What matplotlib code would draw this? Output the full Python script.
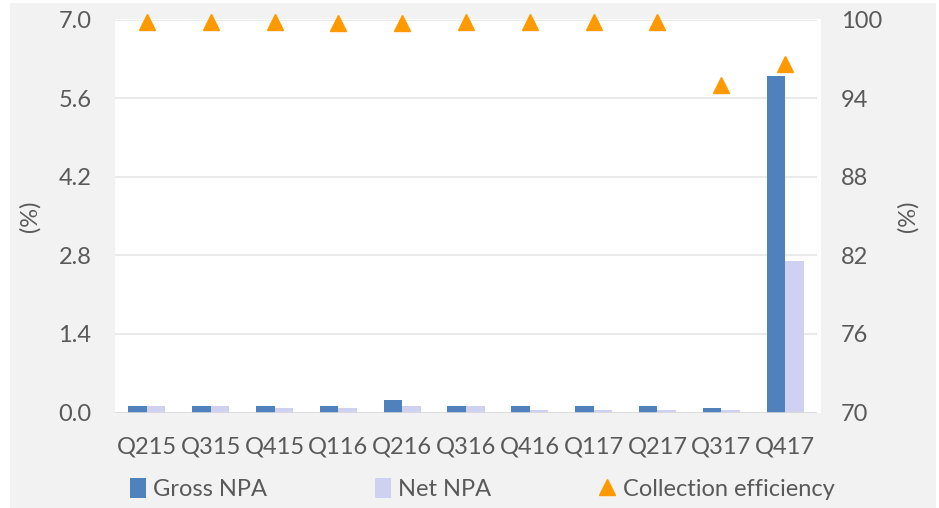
import matplotlib
matplotlib.use("Agg")
import matplotlib.pyplot as plt
import numpy as np
from matplotlib.patches import Rectangle
from matplotlib.lines import Line2D

quarters = ["Q215", "Q315", "Q415", "Q116", "Q216", "Q316", "Q416",
            "Q117", "Q217", "Q317", "Q417"]
gross_npa = [0.12, 0.12, 0.12, 0.12, 0.22, 0.12, 0.12, 0.12, 0.12, 0.08, 6.0]
net_npa = [0.12, 0.12, 0.08, 0.08, 0.12, 0.12, 0.04, 0.04, 0.04, 0.04, 2.7]
collection_eff = [99.8, 99.8, 99.8, 99.7, 99.7, 99.8, 99.8, 99.8, 99.8, 95.0, 96.6]

left_ticks = [0.0, 1.4, 2.8, 4.2, 5.6, 7.0]
right_ticks = [70, 76, 82, 88, 94, 100]

GROSS = "#4F81BD"
NET = "#D0D0F0"
ORANGE = "#FF9900"
TEXT = "#595959"
BG = "#F2F2F2"
FONT = "Lato"
FS = 17

plt.rcParams["font.family"] = [FONT, "DejaVu Sans"]

W, H = 939, 508
fig = plt.figure(figsize=(W / 100, H / 100), dpi=100, facecolor="white")
fig.patches.append(Rectangle((10 / W, 0), 926 / W, 505 / H, transform=fig.transFigure,
                             facecolor=BG, edgecolor="none", zorder=-10))
# white plot area slightly wider than the axes
fig.patches.append(Rectangle((115 / W, 1 - 413 / H), 706 / W, 394 / H,
                             transform=fig.transFigure, facecolor="white",
                             edgecolor="none", zorder=-5))

ax = fig.add_axes([115 / W, 1 - 412.5 / H, 702 / W, 393 / H])
ax.set_facecolor("none")
x = np.arange(len(quarters))
bw = 0.29
ax.bar(x - bw / 2, gross_npa, width=bw, color=GROSS, zorder=3)
ax.bar(x + bw / 2, net_npa, width=bw, color=NET, zorder=3)
ax.set_xlim(-0.5, len(quarters) - 0.5)
ax.set_ylim(0, 7.0)
ax.set_yticks(left_ticks)
ax.set_yticklabels([f"{v:.1f}" for v in left_ticks])
ax.set_xticks(x)
ax.set_xticklabels(quarters)
ax.grid(axis="y", color="#E6E6E6", linewidth=1.2, zorder=0)
for s in ax.spines.values():
    s.set_visible(False)
ax.axhline(0, color="#D9D9D9", linewidth=1.2, zorder=4)
ax.tick_params(axis="both", length=0, labelsize=FS, colors=TEXT)
ax.tick_params(axis="y", pad=17)
ax.tick_params(axis="x", pad=17)
ax.set_ylabel("(%)", fontsize=FS, color=TEXT, labelpad=13)

ax2 = ax.twinx()
ax2.plot(x, collection_eff, linestyle="none", marker="^", markersize=11.5,
         color=ORANGE, zorder=5, clip_on=False)
ax2.set_ylim(70, 100)
ax2.set_yticks(right_ticks)
for s in ax2.spines.values():
    s.set_visible(False)
ax2.tick_params(axis="y", length=0, labelsize=FS, colors=TEXT, pad=17)
ax2.set_ylabel("(%)", fontsize=FS, color=TEXT, labelpad=11, rotation=90)

handles = [
    Rectangle((0, 0), 1, 1, facecolor=GROSS, edgecolor="none"),
    Rectangle((0, 0), 1, 1, facecolor=NET, edgecolor="none"),
    Line2D([], [], linestyle="none", marker="^", markersize=11, color=ORANGE),
]
labels = ["Gross NPA", "Net NPA", "Collection efficiency"]
leg = fig.legend(handles, labels, loc="center", bbox_to_anchor=(482 / W, 1 - 489 / H),
                 ncol=3, frameon=False, fontsize=FS, labelcolor=TEXT,
                 handlelength=0.7, handleheight=0.9, handletextpad=0.3,
                 columnspacing=4.55)

fig.savefig("out.png", dpi=100, facecolor=fig.get_facecolor())
